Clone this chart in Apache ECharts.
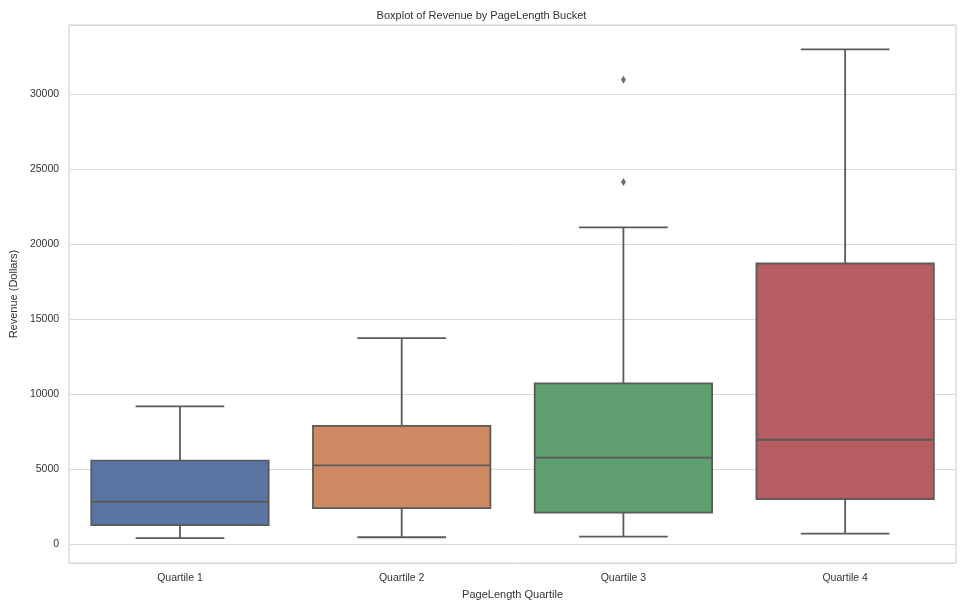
<!DOCTYPE html>
<html>
<head>
<meta charset="utf-8">
<script src="https://cdn.jsdelivr.net/npm/echarts@6/dist/echarts.min.js"></script>
<style>
html,body{margin:0;padding:0;background:#fff;}
#chart{width:963px;height:605px;}
</style>
</head>
<body>
<div id="chart"></div>
<script>
const categories = ['Quartile 1', 'Quartile 2', 'Quartile 3', 'Quartile 4'];
const whiskerLow = [380, 445, 490, 690];
const q1Values = [1260, 2390, 2085, 2985];
const medians = [2815, 5245, 5755, 6950];
const q3Values = [5555, 7880, 10710, 18715];
const whiskerHigh = [9185, 13740, 21130, 33010];
const outliers = [[2, 24160], [2, 30975]];
const boxColors = ['#5875A4', '#CC8963', '#5F9E6E', '#B55D60'];
const yTicks = [0, 5000, 10000, 15000, 20000, 25000, 30000];

const lineColor = '#5a5a5a';
const font = 'Liberation Sans, Arial, sans-serif';

const boxData = categories.map((c, i) => [i, whiskerLow[i], q1Values[i], medians[i], q3Values[i], whiskerHigh[i]]);

const chart = echarts.init(document.getElementById('chart'), null, {renderer: 'canvas'});
chart.setOption({
  backgroundColor: '#ffffff',
  animation: false,
  title: {
    text: 'Boxplot of Revenue by PageLength Bucket',
    left: 'center',
    top: 5,
    textStyle: {fontFamily: font, fontSize: 11, fontWeight: 'normal', color: '#333333'}
  },
  grid: {
    left: 68, right: 7, top: 25, bottom: 38,
    show: true, borderColor: '#cccccc', borderWidth: 1, backgroundColor: '#ffffff'
  },
  xAxis: {
    type: 'category',
    data: categories,
    boundaryGap: true,
    name: 'PageLength Quartile',
    nameLocation: 'middle',
    nameGap: 21,
    nameTextStyle: {fontFamily: font, fontSize: 11, color: '#333333'},
    axisLine: {show: false},
    axisTick: {show: false},
    splitLine: {show: false},
    axisLabel: {fontFamily: font, fontSize: 10.5, color: '#333333', margin: 10}
  },
  yAxis: {
    type: 'value',
    min: -1281,
    max: 34632,
    minInterval: 5000,
    maxInterval: 5000,
    name: 'Revenue (Dollars)',
    nameLocation: 'middle',
    nameGap: 43,
    nameTextStyle: {fontFamily: font, fontSize: 11, color: '#333333'},
    axisLine: {show: false},
    axisTick: {show: false},
    splitLine: {show: true, lineStyle: {color: '#d9d9d9', width: 1}},
    axisLabel: {
      fontFamily: font, fontSize: 10.5, color: '#333333', margin: 10,
      showMinLabel: false, showMaxLabel: false,
      formatter: v => (yTicks.indexOf(v) >= 0 ? String(v) : '')
    }
  },
  series: [
    {
      type: 'custom',
      data: boxData,
      encode: {x: 0, y: [1, 2, 3, 4, 5]},
      renderItem: function (params, api) {
        const i = api.value(0);
        const pLow = api.coord([i, api.value(1)]);
        const pQ1 = api.coord([i, api.value(2)]);
        const pMed = api.coord([i, api.value(3)]);
        const pQ3 = api.coord([i, api.value(4)]);
        const pHigh = api.coord([i, api.value(5)]);
        const bw = api.size([1, 0])[0] * 0.8;
        const cw = bw / 4;
        const cx = pMed[0];
        const ls = {stroke: lineColor, lineWidth: 1.8};
        return {
          type: 'group',
          children: [
            {type: 'line', shape: {x1: cx, y1: pQ3[1], x2: cx, y2: pHigh[1]}, style: ls},
            {type: 'line', shape: {x1: cx, y1: pQ1[1], x2: cx, y2: pLow[1]}, style: ls},
            {type: 'line', shape: {x1: cx - cw, y1: pHigh[1], x2: cx + cw, y2: pHigh[1]}, style: ls},
            {type: 'line', shape: {x1: cx - cw, y1: pLow[1], x2: cx + cw, y2: pLow[1]}, style: ls},
            {type: 'rect', shape: {x: cx - bw / 2, y: pQ3[1], width: bw, height: pQ1[1] - pQ3[1]},
              style: {fill: boxColors[i], stroke: lineColor, lineWidth: 1.8}},
            {type: 'line', shape: {x1: cx - bw / 2, y1: pMed[1], x2: cx + bw / 2, y2: pMed[1]}, style: ls}
          ]
        };
      },
      z: 3
    },
    {
      type: 'scatter',
      data: outliers,
      symbol: 'diamond',
      symbolSize: [5, 8],
      itemStyle: {color: '#4a4a4a'},
      z: 4
    }
  ]
});
</script>
</body>
</html>
